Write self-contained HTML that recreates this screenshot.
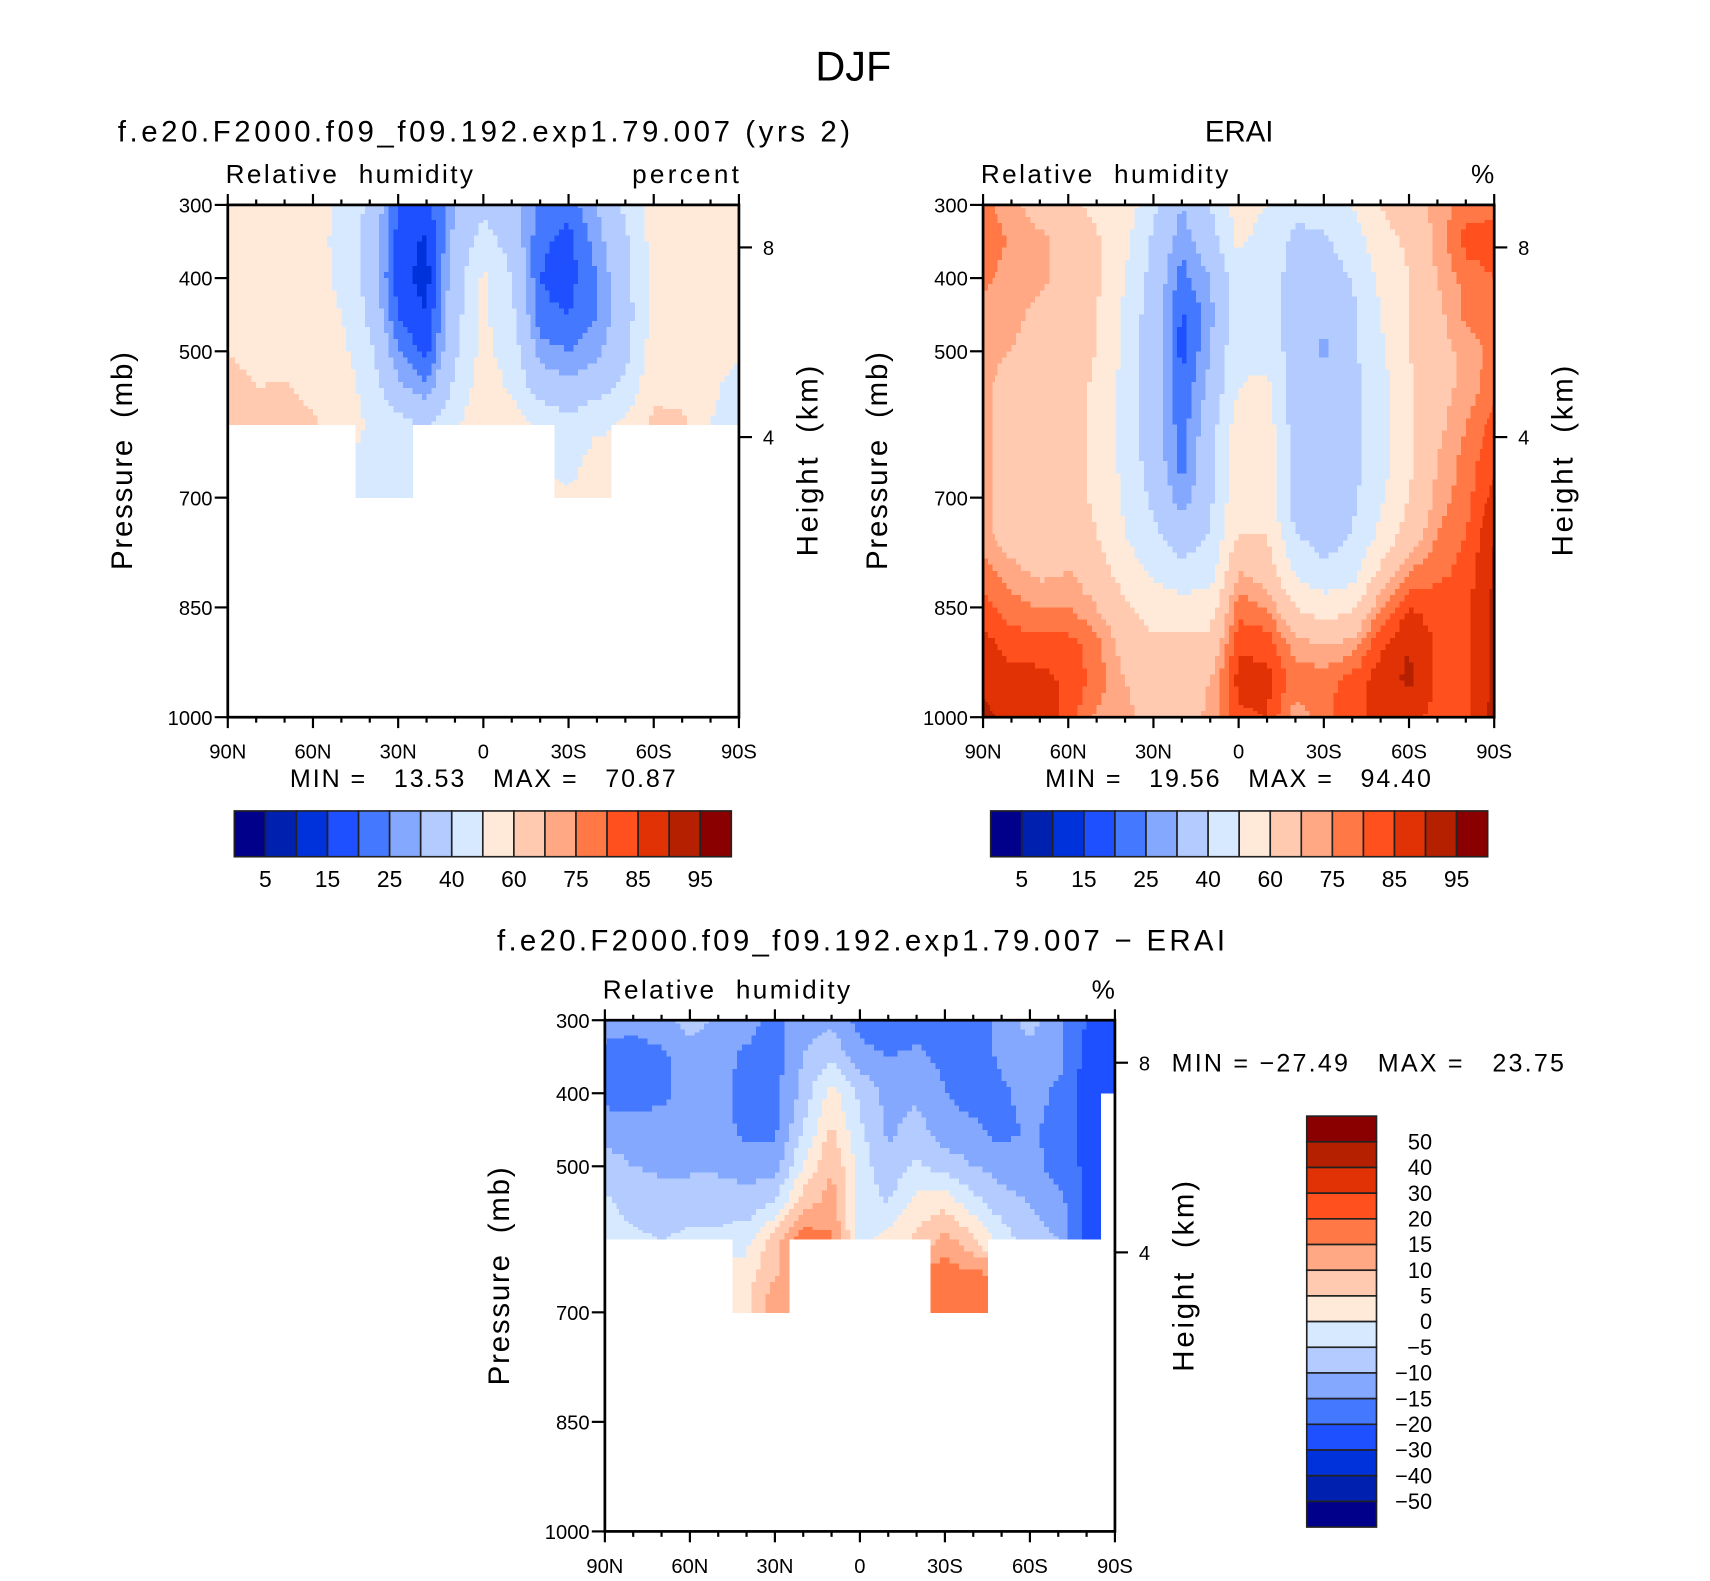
<!DOCTYPE html>
<html><head><meta charset="utf-8"><style>
html,body{margin:0;padding:0;background:#fff;}
svg{display:block;}
text{font-family:"Liberation Sans",sans-serif;fill:#000;}
</style></head><body>
<svg id="fig" width="1710" height="1581" viewBox="0 0 1569 1450.5" preserveAspectRatio="none" xmlns="http://www.w3.org/2000/svg">
<text x="783" y="74" font-size="38" text-anchor="middle">DJF</text>
<g id="p1"></g>
<g id="p2"></g>
<g id="p3"></g>
</svg>
<script>
const LATS = [90,80,70,60,50,40,30,20,10,0,-10,-20,-30,-40,-50,-60,-70,-80,-90];
const PRES_MODEL = [300,350,400,450,500,550,600,650,700];
const PRES_ERA = [300,350,400,450,500,550,600,650,700,750,800,850,900,950,1000];
const RH_LEVELS = [5,10,15,20,25,30,40,50,60,70,75,80,85,90,95];
const DIFF_LEVELS = [-50,-40,-30,-20,-15,-10,-5,0,5,10,15,20,30,40,50];
const RH_LABELS = ["5","15","25","40","60","75","85","95"];
const DIFF_LABELS = ["50","40","30","20","15","10","5","0","\u22125","\u221210","\u221215","\u221220","\u221230","\u221240","\u221250"];
const X_LABELS = ["90N","60N","30N","0","30S","60S","90S"];
const P_LABELS = [300,400,500,700,850,1000];
const H_LABELS = ["8","4"];
const COLORS = ["#00008a","#0020b0","#0032dc","#1e50ff","#4378ff","#85a8ff","#b3cbff","#d7e9ff","#ffead9","#ffcab0","#ffa883","#ff7845","#ff501e","#e03205","#b42000","#8a0000"];

// model RH profiles by latitude (300..700 mb)
const modelRH = [
[58,56,56,56,60,63,68,null,null],
[55,55,55,55,57,60,62,null,null],
[55,55,55,55,56,61,63,null,null],
[55,54,54,54,55,58,61,null,null],
[48,47,48,50,53,55,57,null,null],
[38,36,36,38,42,46,48,48,48],
[20,18,17,20,25,32,44,46,48],
[18,14,13,15,18,26,38,null,null],
[30,32,35,36,38,42,48,null,null],
[38,44,52,52,53,56,58,null,null],
[33,36,40,42,45,48,55,null,null],
[24,21,20,21,27,35,48,null,null],
[22,18,18,20,25,32,44,46,52],
[30,27,25,25,28,36,48,54,54],
[42,38,36,35,37,42,52,null,null],
[55,54,54,54,55,58,62,null,null],
[56,55,55,55,55,57,62,null,null],
[55,55,55,55,54,52,50,null,null],
[56,56,56,56,52,46,44,null,null]
];
// ERAI RH profiles by latitude (300..1000 mb)
const eraRH = [
[77,77,77,72,72,72,72,72,72,72,77,82,87,88,92],
[72,75,72,72,70,66,66,66,66,66,72,77,83,87,87],
[66,72,72,68,66,65,65,65,65,65,68,75,82,87,88],
[65,67,65,65,65,65,65,65,65,67,70,75,82,84,83],
[56,62,62,60,60,58,58,58,58,60,65,70,77,78,74],
[56,52,50,48,47,47,47,47,48,50,55,62,66,70,72],
[42,38,36,34,35,34,34,35,38,42,48,55,62,66,66],
[30,26,23,19,18,21,22,23,26,35,42,55,63,66,65],
[40,35,30,28,30,32,35,36,38,40,45,55,63,70,72],
[55,52,45,45,48,50,55,55,58,60,70,78,84,87,84],
[50,45,45,44,47,52,55,55,55,60,65,75,83,87,85],
[42,38,36,35,35,35,35,36,36,40,48,60,72,78,72],
[45,38,36,32,28,35,35,35,35,36,42,55,70,78,78],
[50,45,40,38,38,37,37,37,38,40,45,58,72,82,84],
[60,56,52,50,48,46,46,46,48,52,62,75,84,88,86],
[66,62,60,60,60,58,58,58,60,65,75,85,90,91,86],
[72,72,70,68,67,67,68,70,72,75,78,83,84,84,84],
[77,82,77,76,72,72,75,77,78,80,82,84,84,84,84],
[78,83,80,80,77,78,82,84,87,90,91,91,91,91,92]
];
// model minus ERAI profiles by latitude (300..700 mb)
const diffRH = [
[-12,-17,-17,-12,-8,-4,-3,null,null],
[-13,-18,-18,-12,-10,-7,-4,null,null],
[-12,-16,-16,-13,-11,-8,-5,null,null],
[-8,-12,-13,-12,-11,-7,-4,null,null],
[-11,-13,-12,-12,-11,-7,-4,null,null],
[-13,-16,-18,-17,-12,-8,-2,3,4],
[-17,-17,-17,-16,-12,-5,8,10,14],
[-12,-10,-8,-5,0,8,18,null,null],
[-11,-6,2,6,10,12,16,null,null],
[-17,-13,-6,-4,-2,-3,-2,null,null],
[-19,-15,-12,-11,-9,-5,2,null,null],
[-17,-14,-11,-8,-4,2,6,null,null],
[-17,-16,-15,-13,-7,3,12,18,20],
[-18,-18,-17,-14,-10,-3,6,16,18],
[-13,-14,-16,-17,-12,-8,-2,null,null],
[-8,-12,-13,-14,-13,-10,-8,null,null],
[-14,-13,-16,-17,-17,-13,-10,null,null],
[-20,-22,-22,-22,-21,-21,-22,null,null],
[-22,-22,-22,null,null,null,null,null,null]
];

const NS = "http://www.w3.org/2000/svg";
function mk(tag, attrs, parent){
  const e = document.createElementNS(NS, tag);
  for (const k in attrs) e.setAttribute(k, attrs[k]);
  parent.appendChild(e);
  return e;
}
function txt(parent, s, x, y, size, anchor, extra){
  const e = mk("text", {x:x, y:y, "font-size":size, "text-anchor":anchor||"start"}, parent);
  if (extra) for (const k in extra) e.setAttribute(k, extra[k]);
  e.textContent = s;
  return e;
}
function colorFor(v, levels){ let k=0; while(k<levels.length && v>=levels[k]) k++; return COLORS[k]; }

function makeAxis(x0,y0,W,H){
  return { x0:x0, y0:y0, W:W, H:H,
    x:(lat)=>x0+(90-lat)/180*W,
    y:(p)=>y0+(p-300)/700*H };
}

function drawField(g, ax, cols, pres, levels, name){
  const S = 6;
  const get = (i,j)=> (i<0||i>=cols.length||j<0||j>=pres.length) ? null : cols[i][j];
  for (let i=0;i<cols.length;i++){
    for (let j=0;j<pres.length;j++){
      const v = cols[i][j];
      if (v===null) continue;
      const latL = Math.min(90, LATS[i]+5), latR = Math.max(-90, LATS[i]-5);
      const pT = (get(i,j-1)!==null) ? (pres[j]+pres[j-1])/2 : pres[j];
      const pB = (get(i,j+1)!==null) ? (pres[j]+pres[j+1])/2 : pres[j];
      if (pB<=pT) continue;
      for (let a=0;a<S;a++){
        for (let b=0;b<S;b++){
          const la = latL+(latR-latL)*(a+0.5)/S;
          const pc = pT+(pB-pT)*(b+0.5)/S;
          const u = (LATS[i]-la)/10, w = (pc-pres[j])/(pres[1]-pres[0]);
          const di = u>=0?1:-1, dj = w>=0?1:-1;
          const au=Math.abs(u), aw=Math.abs(w);
          let v10=get(i+di,j); if(v10===null) v10=v;
          let v01=get(i,j+dj); if(v01===null) v01=v;
          let v11=get(i+di,j+dj); if(v11===null) v11=v;
          const val=(1-au)*(1-aw)*v+au*(1-aw)*v10+(1-au)*aw*v01+au*aw*v11;
          const xa=ax.x(latL+(latR-latL)*a/S), xb=ax.x(latL+(latR-latL)*(a+1)/S);
          const ya=ax.y(pT+(pB-pT)*b/S), yb=ax.y(pT+(pB-pT)*(b+1)/S);
          const r = mk("rect",{x:xa,y:ya,width:xb-xa+0.4,height:yb-ya+0.4,fill:colorFor(val,levels),"shape-rendering":"crispEdges"},g);
          
          
        }
      }
    }
  }
}

function drawAxes(g, ax, opts){
  const frame = mk("rect",{x:ax.x0,y:ax.y0,width:ax.W,height:ax.H,fill:"none",stroke:"#000","stroke-width":2.5},g);
  
  
  for (let lat=90; lat>=-90; lat-=10){
    const x=ax.x(lat), major=(lat%30===0), L=major?10:5;
    mk("line",{x1:x,y1:ax.y0,x2:x,y2:ax.y0-L,stroke:"#000","stroke-width":2},g);
    mk("line",{x1:x,y1:ax.y0+ax.H,x2:x,y2:ax.y0+ax.H+L,stroke:"#000","stroke-width":2},g);
  }
  X_LABELS.forEach((s,k)=>{
    const t = txt(g, s, ax.x(90-30*k), ax.y0+ax.H+38, 18.5, "middle");
    
    
  });
  P_LABELS.forEach(p=>{
    const y=ax.y(p);
    mk("line",{x1:ax.x0,y1:y,x2:ax.x0-12,y2:y,stroke:"#000","stroke-width":2},g);
    const t = txt(g, String(p), ax.x0-14, y+7, 18.5, "end");
    
    
  });
  [39,213].forEach((dy,k)=>{
    const y=ax.y0+dy, xr=ax.x0+ax.W;
    mk("line",{x1:xr,y1:y,x2:xr+12,y2:y,stroke:"#000","stroke-width":2},g);
    const t = txt(g, H_LABELS[k], xr+22, y+7, 18.5, "start");
    
    
  });
  const yl = txt(g, "Pressure  (mb)", 0, 0, 27, "middle", {transform:`translate(${ax.x0-88},${ax.y0+235}) rotate(-90)`, textLength:200});
  
  
  const hl = txt(g, "Height  (km)", 0, 0, 27, "middle", {transform:`translate(${ax.x0+ax.W+72},${ax.y0+235}) rotate(-90)`, textLength:175});
  
  
  const lt = txt(g, "Relative  humidity", ax.x0-2, ax.y0-20, 24, "start", {textLength:227});
  
  
  const ut = txt(g, opts.units, ax.x0+ax.W, ax.y0-20, 24, "end", opts.unitsLen ? {textLength:opts.unitsLen} : null);
  
  
}

function hColorbar(g, x0, y0, W, H){
  const bw = W/COLORS.length;
  COLORS.forEach((c,k)=>{
    const r = mk("rect",{x:x0+k*bw,y:y0,width:bw,height:H,fill:c,stroke:"#222","stroke-width":1.5},g);
    
    
  });
  RH_LABELS.forEach((s,k)=>{
    const t = txt(g, s, x0+(2*k+1)*bw, y0+H+28, 21, "middle");
    
    
  });
}

const g1 = document.getElementById("p1");
const ax1 = makeAxis(209,188,469,470);
drawField(g1, ax1, modelRH, PRES_MODEL, RH_LEVELS, "model-rh");
drawAxes(g1, ax1, {units:"percent", unitsLen:98});
const t1 = txt(g1, "f.e20.F2000.f09_f09.192.exp1.79.007 (yrs 2)", 444, 130, 27, "middle", {textLength:672});


const m1 = txt(g1, "MIN =   13.53   MAX =   70.87", 443, 722, 23, "middle", {textLength:354});


hColorbar(g1, 215, 744, 456, 42);

const g2 = document.getElementById("p2");
const ax2 = makeAxis(902,188,469,470);
drawField(g2, ax2, eraRH, PRES_ERA, RH_LEVELS, "erai-rh");
drawAxes(g2, ax2, {units:"%"});
const t2 = txt(g2, "ERAI", 1137, 130, 27, "middle");


const m2 = txt(g2, "MIN =   19.56   MAX =   94.40", 1136, 722, 23, "middle", {textLength:354});


hColorbar(g2, 909, 744, 456, 42);

const g3 = document.getElementById("p3");
const ax3 = makeAxis(555,936,468,469);
drawField(g3, ax3, diffRH, PRES_MODEL, DIFF_LEVELS, "diff-rh");
drawAxes(g3, ax3, {units:"%"});
const t3 = txt(g3, "f.e20.F2000.f09_f09.192.exp1.79.007 \u2212 ERAI", 790, 872, 27, "middle", {textLength:668});


const m3 = txt(g3, "MIN = \u221227.49   MAX =   23.75", 1075, 983, 23, "start", {textLength:360});


{
  const x0=1199, y0=1024, W=64, H=377, bh=H/COLORS.length;
  for (let k=0;k<COLORS.length;k++){
    const r = mk("rect",{x:x0,y:y0+k*bh,width:W,height:bh,fill:COLORS[COLORS.length-1-k],stroke:"#222","stroke-width":1.5},g3);
    
    
  }
  DIFF_LABELS.forEach((s,k)=>{
    const t = txt(g3, s, 1314, y0+(k+1)*bh+7, 20, "end");
    
    
  });
}
document.querySelectorAll("text").forEach(t=>t.setAttribute("style","white-space:pre"));
</script>
</body></html>
